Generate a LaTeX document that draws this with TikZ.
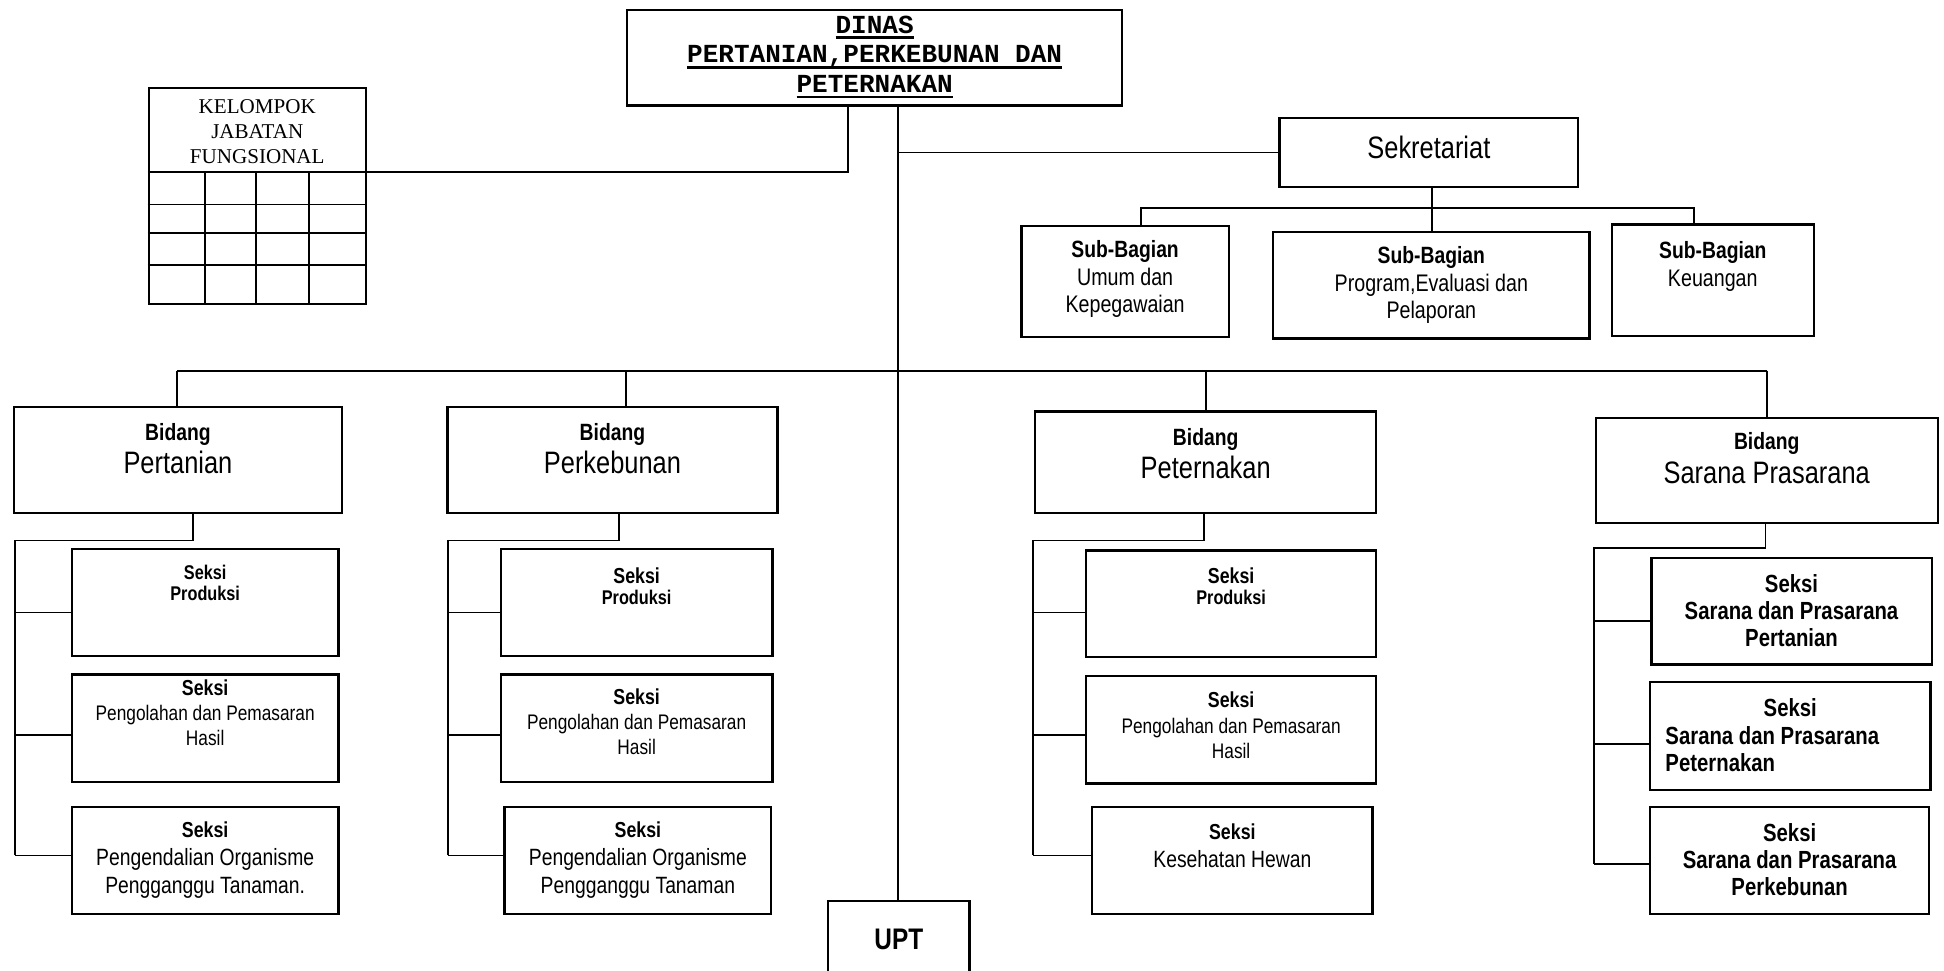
\documentclass[tikz,border=0pt]{standalone}
\usepackage{fontspec}
\setmainfont{Liberation Sans}[FakeStretch=0.82]
\newfontfamily\kjffont{Liberation Serif}
\newfontfamily\dinasfont{Liberation Mono}
\usetikzlibrary{positioning, fit, calc}

% font sizes (1 px of the chart = 0.6pt)
\newcommand\fttitle{\dinasfont\bfseries\fontsize{12.6pt}{14.4pt}\selectfont}
\newcommand\ftkjf{\kjffont\fontsize{10.2pt}{12pt}\selectfont}
\newcommand\ftbig{\fontsize{15pt}{16pt}\selectfont}
\newcommand\ftlab{\bfseries\fontsize{11.4pt}{13.2pt}\selectfont}
\newcommand\ftsub{\fontsize{11.6pt}{13.2pt}\selectfont}
\newcommand\ftsek{\bfseries\fontsize{10.5pt}{12.6pt}\selectfont}
\newcommand\ftsm{\bfseries\fontsize{9.6pt}{10.2pt}\selectfont}
\newcommand\ftnorm{\fontsize{10.2pt}{12.2pt}\selectfont}
\newcommand\ftmid{\fontsize{11.4pt}{13.5pt}\selectfont}
\newcommand\ftsar{\bfseries\fontsize{12pt}{13.2pt}\selectfont}
\newcommand\ftupt{\bfseries\fontsize{14.4pt}{16pt}\selectfont}
\newcommand\undl[1]{\setbox0\hbox{#1}\rlap{\copy0}\rule[-2.8pt]{\wd0}{1.3pt}}

\tikzset{
    box/.style={draw, line width=1.1pt, inner sep=0pt},
    conn/.style={line width=0.9pt},
    txt/.style={align=center, inner sep=0pt},
}

\begin{document}
\begin{tikzpicture}[x=0.6pt, y=-0.6pt]
    \useasboundingbox (0,0) rectangle (1568,783);
    \clip (0,0) rectangle (1568,783);

    % Kepala dinas
    \node[box, fit={(506,8) (905,85)}] (dinas) {};
    \node[txt, font=\fttitle] (dinas-t) at (705.5,46) {\undl{DINAS}\\\undl{PERTANIAN,PERKEBUNAN DAN}\\\undl{PETERNAKAN}};

    % Kelompok jabatan fungsional
    \node[box, fit={(120,71) (295,245)}] (kjf) {};
    \node[txt, font=\ftkjf] (kjf-t) at (207.5,106) {KELOMPOK\\JABATAN\\FUNGSIONAL};
    \foreach \y in {139,165,188,214}
        \draw[conn] (kjf.west |- 0,\y) -- (kjf.east |- 0,\y);
    \foreach \x in {165.5,206.5,249.5}
        \draw[conn] (\x,139) -- (kjf.south -| \x,0);

    \coordinate (kjfbar) at (684,139);
    \draw[conn] (dinas.south -| kjfbar) -- (kjfbar) -- (kjf.east |- kjfbar);

    % UPT + garis utama
    \coordinate (trunk) at (724,299);
    \node[box, fit={(668,727) (782,810)}] (upt) {};
    \node[txt, font=\ftupt] (upt-t) at (725,758) {UPT};
    \draw[conn] (dinas.south -| trunk) -- (upt.north -| trunk);

    % Sekretariat
    \node[box, fit={(1032,95) (1273,151)}] (sekr) {};
    \node[txt, font=\ftbig] (sekr-t) at (1152.5,119) {Sekretariat};
    \draw[conn] (trunk |- sekr.west) -- (sekr.west);

    \node[box, fit={(824,182) (991,272)}] (sub1) {};
    \node[txt, font=\ftsub] (sub1-t) at (907.5,225) {{\ftlab Sub-Bagian}\\Umum dan\\Kepegawaian};
    \node[box, fit={(1027,187) (1282,273)}] (sub2) {};
    \node[txt, font=\ftsub] (sub2-t) at (1154.5,230) {{\ftlab Sub-Bagian}\\Program,Evaluasi dan\\Pelaporan};
    \node[box, fit={(1300,181) (1463,271)}] (sub3) {};
    \node[txt, font=\ftsub] (sub3-t) at (1381.5,215) {{\ftlab Sub-Bagian}\\Keuangan};

    \coordinate (sb1) at (920,168);
    \coordinate (sb2) at (1155,168);
    \coordinate (sb3) at (1366,168);
    \draw[conn] (sekr.south -| sb2) -- (sub2.north -| sb2);
    \draw[conn] (sub1.north -| sb1) -- (sb1) -- (sb3) -- (sub3.north -| sb3);

    % Bidang
    \node[box, fit={(11,328) (276,414)}] (pert) {};
    \node[txt, font=\ftbig] (pert-t) at (143.5,362) {{\ftlab Bidang}\\Pertanian};
    \node[box, fit={(361,328) (627,414)}] (kebun) {};
    \node[txt, font=\ftbig] (kebun-t) at (494,362) {{\ftlab Bidang}\\Perkebunan};
    \node[box, fit={(835,332) (1110,414)}] (ternak) {};
    \node[txt, font=\ftbig] (ternak-t) at (972.5,365.5) {{\ftlab Bidang}\\Peternakan};
    \node[box, fit={(1287,337) (1563,422)}] (sarpras) {};
    \node[txt, font=\ftbig] (sarpras-t) at (1425,369.5) {{\ftlab Bidang}\\Sarana Prasarana};

    \coordinate (bl) at (143,299);
    \coordinate (bk) at (505,299);
    \coordinate (br) at (1425,299);
    \draw[conn] (bl) -- (br);
    \draw[conn] (bl) -- (pert.north -| bl);
    \draw[conn] (bk) -- (kebun.north -| bk);
    \draw[conn] (ternak.north |- bl) -- (ternak.north);
    \draw[conn] (br) -- (sarpras.north -| br);

    % Seksi - Pertanian
    \node[box, fit={(58,443) (273,529)}] (pert-1) {};
    \node[txt, font=\ftsm] (pert-1t) at (165.5,470) {Seksi\\Produksi};
    \node[box, fit={(58,544) (273,631)}] (pert-2) {};
    \node[txt, font=\ftnorm] (pert-2t) at (165.5,575) {{\ftsek Seksi}\\Pengolahan dan Pemasaran\\Hasil};
    \node[box, fit={(58,651) (273,737)}] (pert-3) {};
    \node[txt, font=\ftmid] (pert-3t) at (165.5,693.5) {{\ftsek Seksi}\\Pengendalian Organisme\\Pengganggu Tanaman.};

    % Seksi - Perkebunan
    \node[box, fit={(404,443) (623,529)}] (kebun-1) {};
    \node[txt, font=\ftsm] (kebun-1t) at (513.5,472.5) {{\ftsek Seksi}\\Produksi};
    \node[box, fit={(404,544) (623,631)}] (kebun-2) {};
    \node[txt, font=\ftnorm] (kebun-2t) at (513.5,582) {{\ftsek Seksi}\\Pengolahan dan Pemasaran\\Hasil};
    \node[box, fit={(407,651) (622,737)}] (kebun-3) {};
    \node[txt, font=\ftmid] (kebun-3t) at (514.5,693.5) {{\ftsek Seksi}\\Pengendalian Organisme\\Pengganggu Tanaman};

    % Seksi - Peternakan
    \node[box, fit={(876,444) (1110,530)}] (ternak-1) {};
    \node[txt, font=\ftsm] (ternak-1t) at (993,473) {{\ftsek Seksi}\\Produksi};
    \node[box, fit={(876,545) (1110,632)}] (ternak-2) {};
    \node[txt, font=\ftnorm] (ternak-2t) at (993,585) {{\ftsek Seksi}\\Pengolahan dan Pemasaran\\Hasil};
    \node[box, fit={(881,651) (1107,737)}] (ternak-3) {};
    \node[txt, font=\ftmid] (ternak-3t) at (994,682.5) {{\ftsek Seksi}\\Kesehatan Hewan};

    % Seksi - Sarana Prasarana
    \node[box, fit={(1332,450) (1558,536)}] (sarpras-1) {};
    \node[txt, font=\ftsar] (sarpras-1t) at (1445,492.5) {Seksi\\Sarana dan Prasarana\\Pertanian};
    \node[box, fit={(1331,550) (1557,637)}] (sarpras-2) {};
    \node[txt, font=\ftsar] (sarpras-2t) at (1444,571) {Seksi};
    \node[txt, font=\ftsar, align=left, anchor=west] (sarpras-2u) at (1343,604) {Sarana dan Prasarana\\Peternakan};
    \node[box, fit={(1331,651) (1556,737)}] (sarpras-3) {};
    \node[txt, font=\ftsar] (sarpras-3t) at (1443.5,693.5) {Seksi\\Sarana dan Prasarana\\Perkebunan};

    % garis ke seksi
    \foreach \col/\xs/\xr/\yh/\dy in {pert/156/12/436/0, kebun/499/361/436/0, ternak/971/833/436/0, sarpras/1424/1286/442/7} {
        \draw[conn] (\col.south -| \xs,0) -- (\xs,\yh) -- (\xr,\yh) -- (\xr,690+\dy);
        \draw[conn] (\xr,494+\dy) -- (\col-1.west |- 0,494+\dy);
        \draw[conn] (\xr,593+\dy) -- (\col-2.west |- 0,593+\dy);
        \draw[conn] (\xr,690+\dy) -- (\col-3.west |- 0,690+\dy);
    }
\end{tikzpicture}
\end{document}
